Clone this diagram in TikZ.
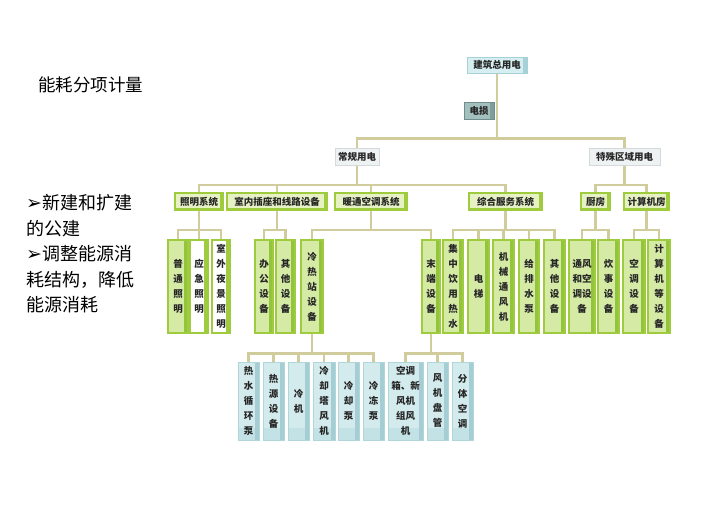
\documentclass[tikz,border=0pt]{standalone}
\usepackage{fontspec}
\newfontfamily\cjk{Noto Sans CJK SC}
\newfontfamily\dv{DejaVu Sans}
\definecolor{conncol}{HTML}{D0CC9C}
\definecolor{gfill}{HTML}{D5EAA5}
\definecolor{gborder}{HTML}{9FCB3F}
\definecolor{gside}{HTML}{92C43C}
\definecolor{ltfill}{HTML}{E6F2C4}
\definecolor{onefill}{HTML}{EEF2F3}
\definecolor{oneborder}{HTML}{D2DADD}
\definecolor{topfill}{HTML}{D6EEF0}
\definecolor{topborder}{HTML}{A6D1D6}
\definecolor{lossfill}{HTML}{A3BFBE}
\definecolor{lossborder}{HTML}{6E8E8C}
\definecolor{lossside}{HTML}{7E9E9C}
\definecolor{cfill}{HTML}{D4EBEE}
\definecolor{cborder}{HTML}{B0D6DA}
\definecolor{cside}{HTML}{A4CED3}
\definecolor{cbottom}{HTML}{C3E2E5}
\begin{document}
\begin{tikzpicture}[x=1pt,y=-1pt,
  conn/.style={draw=conncol, line width=2.8pt},
  boxbase/.style={inner sep=0pt, align=center, text=black!85,
    font=\cjk\bfseries\fontsize{9.5}{15}\selectfont},
  rside/.style={path picture={\fill[#1] ([xshift=-4]path picture bounding box.north east) rectangle (path picture bounding box.south east);}},
  topbox/.style={boxbase, draw=topborder, fill=topfill, line width=1pt, minimum width=#1, minimum height=16, rside=topborder},
  lossbox/.style={boxbase, draw=lossborder, fill=lossfill, line width=1pt, minimum width=30, minimum height=17, rside=lossside},
  lvone/.style={boxbase, draw=oneborder, fill=onefill, line width=1pt, minimum width=#1, minimum height=17},
  lvtwo/.style={boxbase, draw=gborder, fill=ltfill, line width=1.2pt, minimum width=#1, minimum height=17,
    path picture={\fill[gborder] ([xshift=-3]path picture bounding box.north east) rectangle (path picture bounding box.south east);
      \fill[gborder] ([yshift=2]path picture bounding box.south west) rectangle (path picture bounding box.south east);}},
  gtall/.style={boxbase, draw=gborder, fill=gfill, line width=1.2pt, minimum width=#1, minimum height=93, rside=gside},
  wtall/.style={boxbase, draw=gborder, fill=white, line width=1.2pt, minimum width=#1, minimum height=93, rside=gborder},
  ctall/.style={boxbase, draw=cborder, fill=cfill, line width=1pt, minimum width=#1, minimum height=78,
    path picture={\fill[cbottom] ([yshift=12]path picture bounding box.south west) rectangle (path picture bounding box.south east);
      \fill[cside] ([xshift=-4]path picture bounding box.north east) rectangle (path picture bounding box.south east);}}
]
\useasboundingbox (0,0) rectangle (707,531);
\fill[white] (0,0) rectangle (707,531);

% bus levels
\coordinate (bus0) at (0,138.5);
\coordinate (bus1) at (0,185);
\coordinate (bus2) at (0,230);
\coordinate (bus3) at (0,353.5);

% left texts
\node[anchor=west, inner sep=0, font=\cjk\fontsize{17.5}{20}\selectfont] (title) at (38,85) {能耗分项计量};
\node[anchor=west, align=left, inner sep=0, font=\cjk\fontsize{18}{25.5}\selectfont] (bul) at (26,254)
  {{\dv\fontsize{19}{25.5}\selectfont ➢}新建和扩建\\的公建\\{\dv\fontsize{19}{25.5}\selectfont ➢}调整能源消\\耗结构，降低\\能源消耗};

% top
\node[topbox=60] (root) at (497,65) {建筑总用电};
\node[lossbox] (loss) at (479,110.5) {电损};
\node[lvone=44] (reg) at (357,156.5) {常规用电};
\node[lvone=71] (spe) at (624.5,156.5) {特殊区域用电};

% level 2
\node[lvtwo=48] (light) at (199,201.5) {照明系统};
\node[lvtwo=100] (sock) at (277,201.5) {室内插座和线路设备};
\node[lvtwo=72] (hvac) at (371,201.5) {暖通空调系统};
\node[lvtwo=73] (serv) at (505.5,201.5) {综合服务系统};
\node[lvtwo=29] (kit) at (595.5,201.5) {厨房};
\node[lvtwo=45] (comp) at (646.5,201.5) {计算机房};

% level 3
\node[gtall=20] (a1) at (178,286.5) {普\\通\\照\\明};
\node[wtall=18] (a2) at (199,286.5) {应\\急\\照\\明};
\node[wtall=18] (a3) at (221,286.5) {室\\外\\夜\\景\\照\\明};
\node[gtall=18] (b1) at (264,286.5) {办\\公\\设\\备};
\node[gtall=19] (b2) at (285.5,286.5) {其\\他\\设\\备};
\node[gtall=22] (c1) at (312,286.5) {冷\\热\\站\\设\\备};
\node[gtall=18] (c2) at (431,286.5) {末\\端\\设\\备};
\node[gtall=20] (d1) at (453,286.5) {集\\中\\饮\\用\\热\\水};
\node[gtall=21] (d2) at (478.5,286.5) {电\\梯};
\node[gtall=21] (d3) at (503.5,286.5) {机\\械\\通\\风\\机};
\node[gtall=20] (d4) at (529,286.5) {给\\排\\水\\泵};
\node[gtall=21] (d5) at (554.5,286.5) {其\\他\\设\\备};
\node[gtall=26] (e1) at (582,286.5) {通风\\和空\\调设\\备};
\node[gtall=21] (e2) at (608.5,286.5) {炊\\事\\设\\备};
\node[gtall=22] (f1) at (634,286.5) {空\\调\\设\\备};
\node[gtall=22] (f2) at (659,286.5) {计\\算\\机\\等\\设\\备};

% level 4
\node[ctall=21] (g1) at (248.5,401) {热\\水\\循\\环\\泵};
\node[ctall=21] (g2) at (273.5,401) {热\\源\\设\\备};
\node[ctall=21] (g3) at (298.5,401) {冷\\机};
\node[ctall=22] (g4) at (324,401) {冷\\却\\塔\\风\\机};
\node[ctall=21] (g5) at (348.5,401) {冷\\却\\泵};
\node[ctall=21] (g6) at (373.5,401) {冷\\冻\\泵};
\node[ctall=35] (h1) at (405.5,401) {空调\\箱、新\\风机\\组风\\机};
\node[ctall=21] (h2) at (437.5,401) {风\\机\\盘\\管};
\node[ctall=21] (h3) at (462.5,401) {分\\体\\空\\调};

% connectors
\foreach \c in {reg,spe} \draw[conn] (root.south) |- (\c.north |- bus0) -- (\c.north);
\foreach \c in {light,sock,hvac,serv} \draw[conn] (reg.south) |- (\c.north |- bus1) -- (\c.north);
\foreach \c in {kit,comp} \draw[conn] (spe.south) |- (\c.north |- bus1) -- (\c.north);
\foreach \c in {a1,a2,a3} \draw[conn] (light.south) |- (\c.north |- bus2) -- (\c.north);
\foreach \c in {b1,b2} \draw[conn] (sock.south) |- (\c.north |- bus2) -- (\c.north);
\foreach \c in {c1,c2} \draw[conn] (hvac.south) |- (\c.north |- bus2) -- (\c.north);
\foreach \c in {d1,d2,d3,d4,d5} \draw[conn] (serv.south) |- (\c.north |- bus2) -- (\c.north);
\foreach \c in {e1,e2} \draw[conn] (kit.south) |- (\c.north |- bus2) -- (\c.north);
\foreach \c in {f1,f2} \draw[conn] (comp.south) |- (\c.north |- bus2) -- (\c.north);
\foreach \c in {g1,g2,g3,g4,g5,g6} \draw[conn] (c1.south) |- (\c.north |- bus3) -- (\c.north);
\foreach \c in {h1,h2,h3} \draw[conn] (c2.south) |- (\c.north |- bus3) -- (\c.north);
\end{tikzpicture}
\end{document}
